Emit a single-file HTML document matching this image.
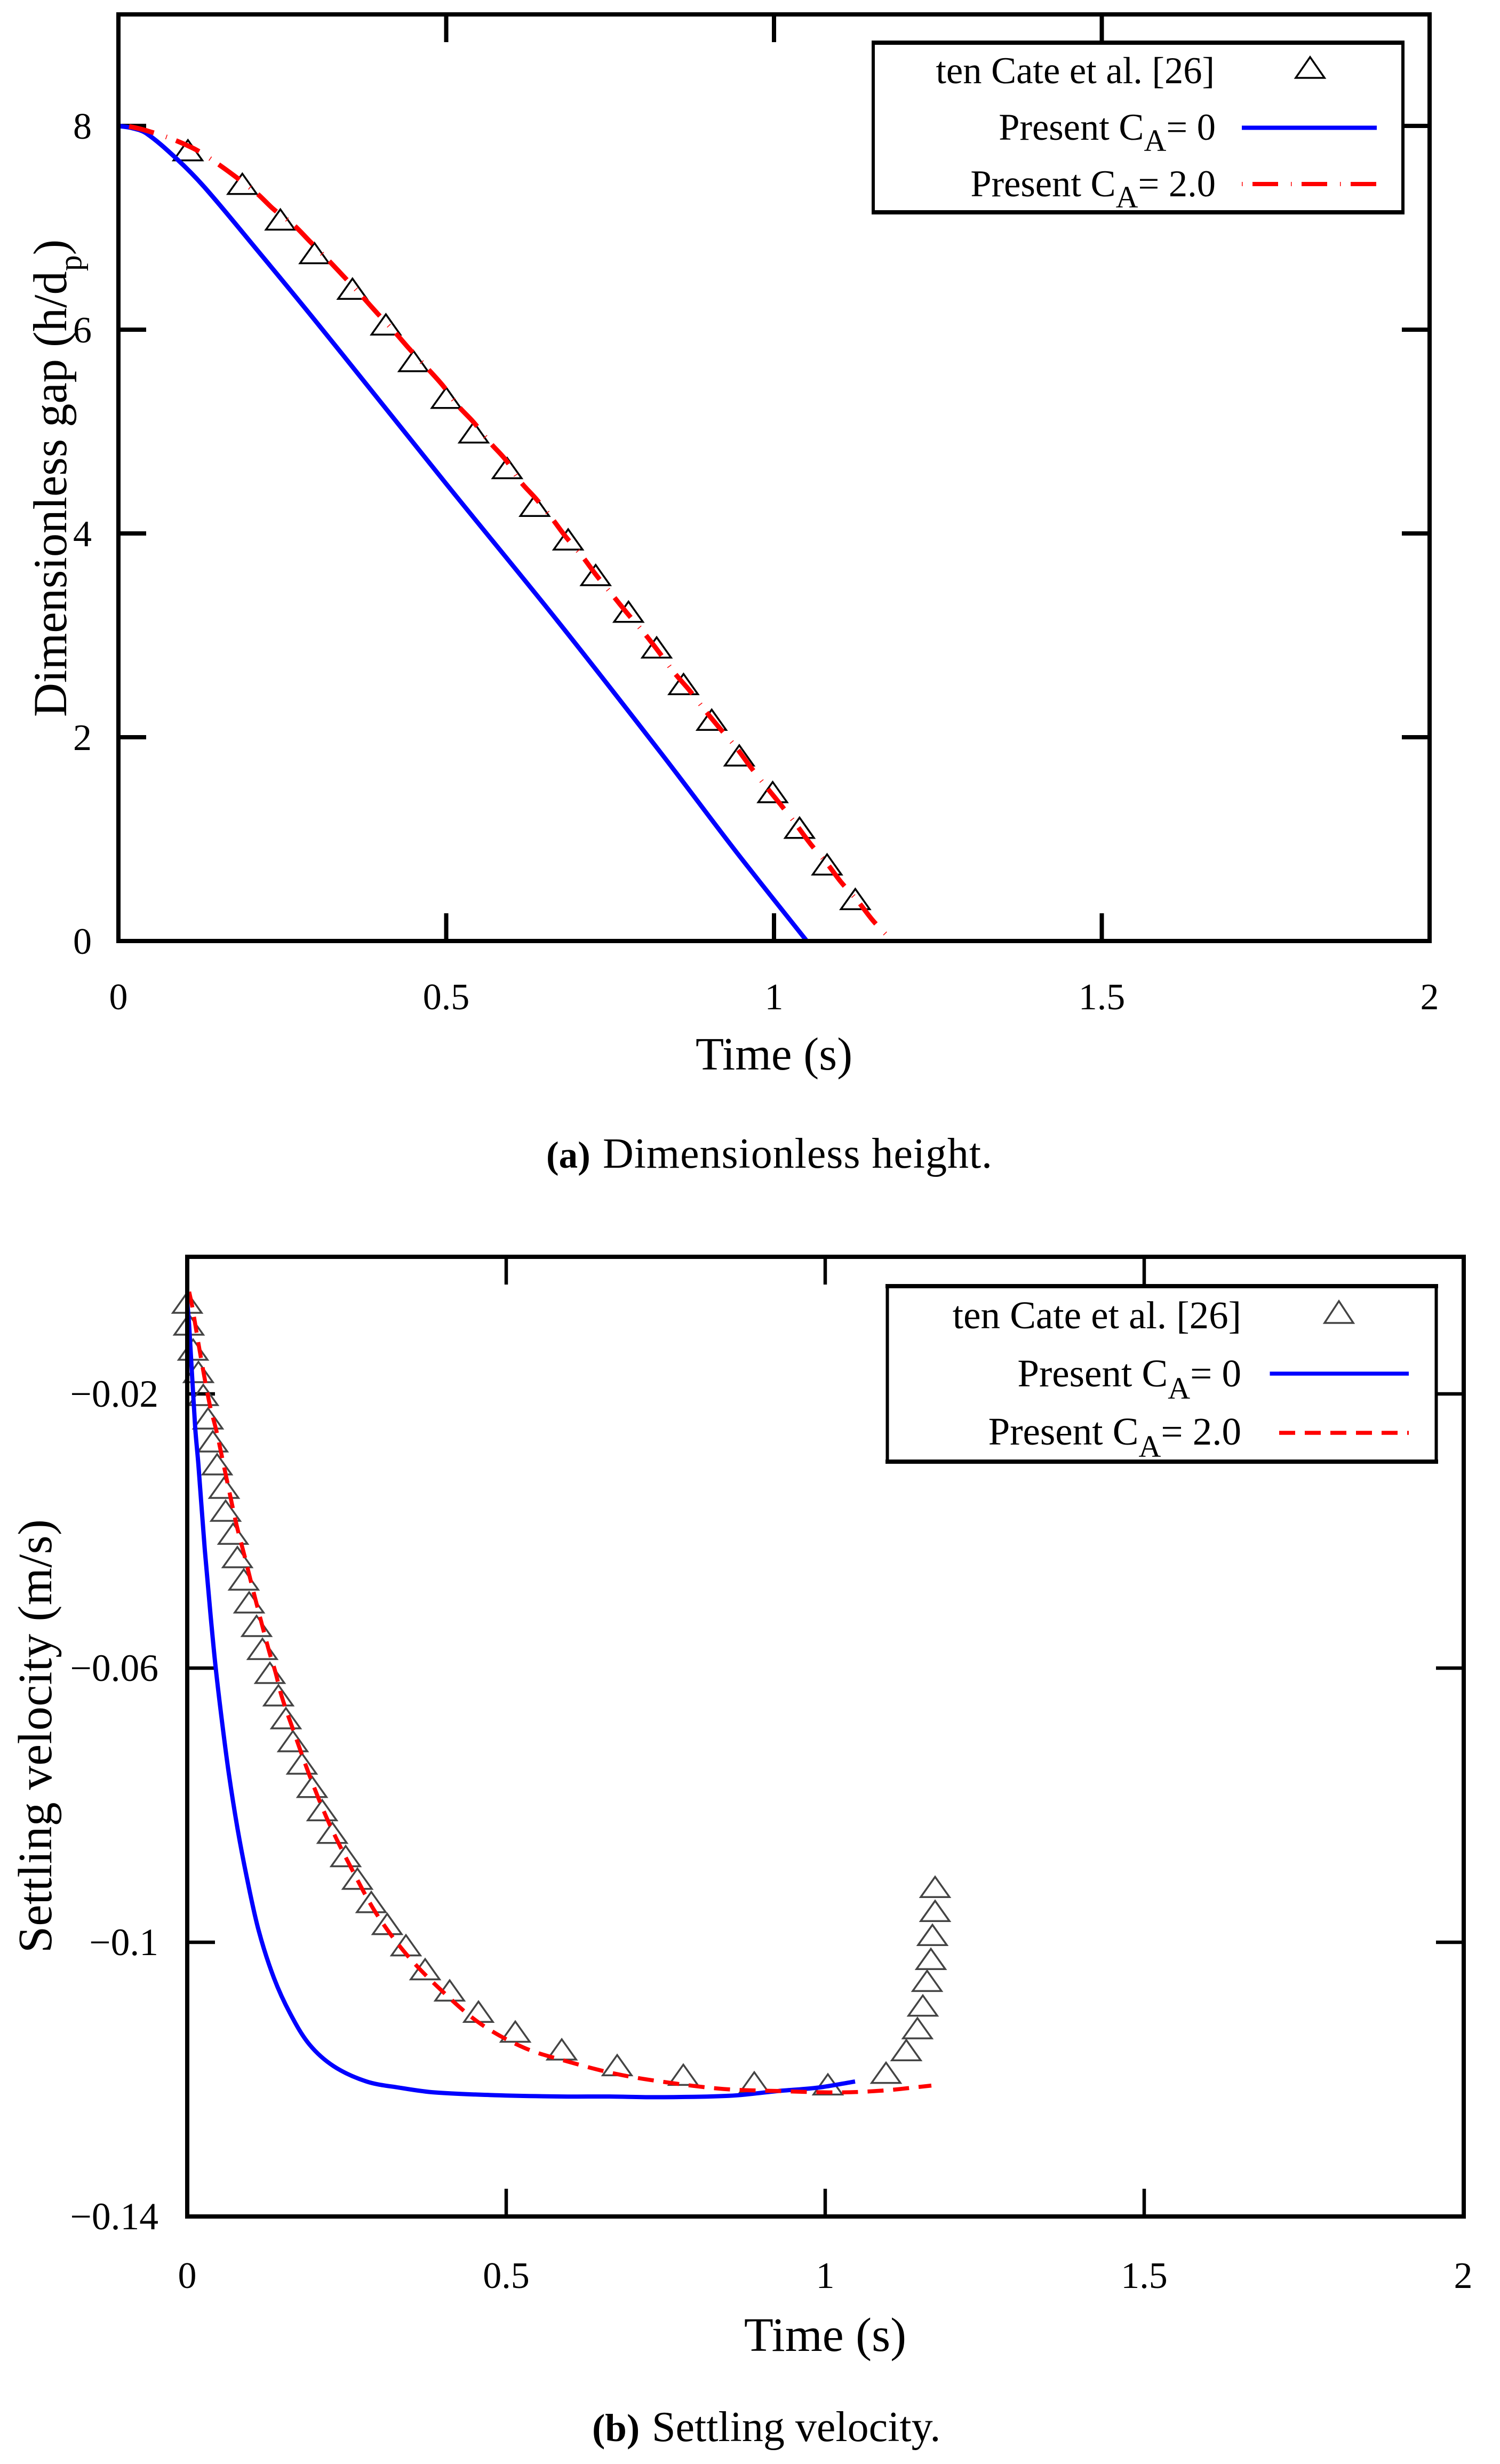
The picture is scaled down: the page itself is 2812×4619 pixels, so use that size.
<!DOCTYPE html>
<html lang="en">
<head>
<meta charset="utf-8">
<title>Dimensionless height and settling velocity</title>
<style>
html,body{margin:0;padding:0;background:#fff;}
svg{display:block;}
text{font-family:"Liberation Serif",serif;fill:#000;}
</style>
</head>
<body>
<svg id="fig" xmlns="http://www.w3.org/2000/svg" width="2812" height="4619" viewBox="0 0 2812 4619">
<rect x="0" y="0" width="2812" height="4619" fill="#fff"/>
<g id="chartA"></g>
<g id="chartB"></g>

<g>
  <rect x="1637" y="80" width="993" height="318" fill="#fff" stroke="none"/>
  <path d="M1637 80V398M2630 80V398" stroke="#000" stroke-width="6" fill="none"/>
  <path d="M1634 80H2633M1634 398H2633" stroke="#000" stroke-width="8" fill="none"/>
  <text x="2277" y="156" text-anchor="end" font-size="70.5">ten Cate et al. [26]</text>
  <path d="M2456 107L2483 146H2429Z" fill="none" stroke="#000" stroke-width="3.5"/>
  <text x="2279" y="262" text-anchor="end" font-size="70.5">Present C<tspan font-size="58" dy="21">A</tspan><tspan dy="-21">= 0</tspan></text>
  <line x1="2328" y1="239.5" x2="2581" y2="239.5" stroke="#0000ff" stroke-width="8"/>
  <text x="2279" y="368" text-anchor="end" font-size="70.5">Present C<tspan font-size="58" dy="21">A</tspan><tspan dy="-21">= 2.0</tspan></text>
  <line x1="2328" y1="345" x2="2581" y2="345" stroke="#ff0000" stroke-width="8" stroke-dasharray="1.5 18.5 48 24"/>
</g>

<g>
  <rect x="1663.5" y="2411" width="1029" height="329" fill="#fff"/>
  <path d="M1663.5 2411V2740M2692.5 2411V2740" stroke="#000" stroke-width="6" fill="none"/>
  <path d="M1660 2411H2696M1660 2740H2696" stroke="#000" stroke-width="8" fill="none"/>
  <text x="2327" y="2490" text-anchor="end" font-size="73">ten Cate et al. [26]</text>
  <path d="M2510 2439L2537 2480H2483Z" fill="none" stroke="#444" stroke-width="3.5"/>
  <text x="2327" y="2599" text-anchor="end" font-size="73">Present C<tspan font-size="58" dy="23">A</tspan><tspan dy="-23">= 0</tspan></text>
  <line x1="2380.5" y1="2575" x2="2641" y2="2575" stroke="#0000ff" stroke-width="7.5"/>
  <text x="2327" y="2708" text-anchor="end" font-size="73">Present C<tspan font-size="58" dy="23">A</tspan><tspan dy="-23">= 2.0</tspan></text>
  <line x1="2398" y1="2686" x2="2641" y2="2686" stroke="#ff0000" stroke-width="7.5" stroke-dasharray="30 18"/>
</g>

<text x="1451" y="2005" text-anchor="middle" font-size="87">Time (s)</text>
<text transform="translate(124 1344) rotate(-90)" font-size="88.5">Dimensionless gap (h/d<tspan font-size="60" dy="28">p</tspan><tspan dy="-28">)</tspan></text>
<text y="2189"><tspan x="1024" font-size="71" font-weight="700">(a) </tspan><tspan x="1130" font-size="80" letter-spacing="0.95">Dimensionless height.</tspan></text>

<text x="1547" y="4407" text-anchor="middle" font-size="90">Time (s)</text>
<text transform="translate(96 3661) rotate(-90)" font-size="90" textLength="813">Settling velocity (m/s)</text>
<text y="4576"><tspan x="1110" font-size="73" font-weight="700">(b) </tspan><tspan x="1222" font-size="80">Settling velocity.</tspan></text>
</svg>

<script>
// ---- Chart A: dimensionless gap ----
const gapXTicks = [0, 0.5, 1, 1.5, 2];
const gapXTickLabels = ['0', '0.5', '1', '1.5', '2'];
const gapYTicks = [0, 2, 4, 6, 8];
const gapYTickLabels = ['0', '2', '4', '6', '8'];

const gapCateTime = [0.106,0.189,0.247,0.299,0.357,0.408,0.450,0.500,0.542,0.593,0.635,0.686,0.728,0.778,0.821,0.862,0.905,0.947,0.998,1.039,1.081,1.124];
const gapCateValue = [7.73,7.40,7.05,6.72,6.37,6.02,5.66,5.30,4.96,4.61,4.24,3.91,3.56,3.20,2.85,2.49,2.14,1.79,1.43,1.08,0.72,0.38];

const gapCa0Time = [0,0.02,0.042,0.09,0.131,0.208,0.3076,0.4996,0.670,0.827,0.943,1.05];
const gapCa0Value = [8.0,7.98,7.93,7.67,7.40,6.81,6.03,4.49,3.14,1.85,0.87,0.0];

const gapCa2Time = [0,0.016,0.050,0.086,0.120,0.151,0.181,0.211,0.237,0.267,0.293,0.319,0.344,0.370,0.395,0.421,0.444,0.470,0.495,0.517,0.542,0.567,0.591,0.613,0.637,0.661,0.682,0.707,0.729,0.753,0.777,0.801,0.824,0.847,0.871,0.894,0.917,0.941,0.964,0.986,1.010,1.033,1.056,1.081,1.102,1.128,1.151,1.176];
const gapCa2Value = [8.0,7.995,7.94,7.86,7.76,7.63,7.49,7.34,7.18,7.03,6.86,6.69,6.52,6.34,6.16,5.98,5.81,5.63,5.45,5.26,5.09,4.89,4.72,4.51,4.34,4.15,3.97,3.78,3.59,3.40,3.21,3.03,2.84,2.64,2.46,2.27,2.09,1.91,1.71,1.53,1.34,1.15,0.95,0.76,0.58,0.39,0.20,0.03];

// ---- Chart B: settling velocity ----
const velXTicks = [0, 0.5, 1, 1.5, 2];
const velXTickLabels = ['0', '0.5', '1', '1.5', '2'];
const velYTicks = [-0.02, -0.06, -0.1, -0.14];
const velYTickLabels = ['\u22120.02', '\u22120.06', '\u22120.1', '\u22120.14'];

const velCateTime = [0,0.0025,0.0092,0.0176,0.0251,0.0326,0.0401,0.0468,0.0577,0.0602,0.0719,0.0786,0.0886,0.0970,0.1087,0.1179,0.1296,0.1430,0.1547,0.1656,0.1798,0.1957,0.2115,0.2274,0.2483,0.2667,0.2885,0.3135,0.3428,0.3729,0.4114,0.4565,0.5142,0.5870,0.6739,0.7776,0.8888,1.0042,1.0953,1.1271,1.1446,1.1530,1.1597,1.1656,1.1681,1.1722,1.1722];
const velCateValue = [-0.00716,-0.01035,-0.01401,-0.01728,-0.02062,-0.02405,-0.02739,-0.03074,-0.03416,-0.03751,-0.04086,-0.04428,-0.04755,-0.05089,-0.05432,-0.05767,-0.06117,-0.06444,-0.06778,-0.07113,-0.0744,-0.0778,-0.0812,-0.0845,-0.0879,-0.0912,-0.0946,-0.0978,-0.1009,-0.1044,-0.1075,-0.1106,-0.1135,-0.1161,-0.1184,-0.1198,-0.1209,-0.1212,-0.1195,-0.1162,-0.1130,-0.1097,-0.1061,-0.1029,-0.0994,-0.0959,-0.0924];

const velCa0Time = [0,0.0030,0.0125,0.0176,0.0276,0.0368,0.0443,0.0548,0.0652,0.0786,0.0931,0.1120,0.1359,0.1614,0.1915,0.2299,0.2809,0.3319,0.3871,0.4816,0.5878,0.6597,0.7349,0.8495,0.9264,0.9891,1.0468];
const velCa0Value = [-0.0065,-0.0100,-0.0249,-0.0304,-0.0428,-0.0525,-0.0597,-0.0680,-0.0754,-0.0833,-0.0904,-0.0983,-0.1052,-0.1104,-0.1149,-0.1181,-0.1203,-0.1212,-0.1219,-0.1223,-0.1225,-0.1225,-0.1226,-0.1224,-0.1217,-0.1212,-0.1203];

const velCa2Time = [0.0030,0.0075,0.0201,0.0351,0.0457,0.0606,0.0778,0.0903,0.1075,0.1288,0.1380,0.1480,0.1656,0.1915,0.2212,0.2595,0.2977,0.3449,0.4005,0.4599,0.5284,0.5966,0.6722,0.7492,0.8403,0.9264,1.0226,1.0945,1.1664];
const velCa2Value = [-0.0051,-0.0071,-0.0140,-0.0215,-0.0254,-0.0319,-0.0393,-0.0438,-0.0502,-0.0577,-0.0605,-0.0641,-0.0689,-0.0756,-0.0824,-0.0896,-0.0960,-0.1019,-0.1072,-0.1119,-0.1154,-0.1174,-0.1192,-0.1204,-0.1214,-0.1217,-0.1219,-0.1216,-0.1209];

// ---- Axis functions ----
const SVGNS = 'http://www.w3.org/2000/svg';
function gapX(t) { return 222 + t * 1229; }
function gapY(v) { return 1764 - v * 191; }
function velX(t) { return 351 + t * 1196; }
function velY(v) { return 2356 - v * 12850; }

function el(tag, parent, props) {
  const node = document.createElementNS(SVGNS, tag);
  for (const k in props) node.setAttribute(k, props[k]);
  parent.appendChild(node);
  return node;
}
// Smooth curve through the read points (non-uniform Catmull-Rom).
function pathFrom(xs, ys, fx, fy) {
  const pts = xs.map(function (t, i) { return [fx(t), fy(ys[i])]; });
  function dist(a, b) { return Math.hypot(a[0] - b[0], a[1] - b[1]) || 1; }
  function tangent(i) {
    const a = pts[Math.max(i - 1, 0)], b = pts[Math.min(i + 1, pts.length - 1)];
    const d = dist(a, b);
    return [(b[0] - a[0]) / d, (b[1] - a[1]) / d];
  }
  let d = 'M' + pts[0][0].toFixed(1) + ' ' + pts[0][1].toFixed(1);
  for (let i = 0; i < pts.length - 1; i++) {
    const p = pts[i], q = pts[i + 1], len = dist(p, q) / 3;
    const tp = tangent(i), tq = tangent(i + 1);
    d += 'C' + (p[0] + tp[0] * len).toFixed(1) + ' ' + (p[1] + tp[1] * len).toFixed(1) + ' ' +
         (q[0] - tq[0] * len).toFixed(1) + ' ' + (q[1] - tq[1] * len).toFixed(1) + ' ' +
         q[0].toFixed(1) + ' ' + q[1].toFixed(1);
  }
  return d;
}

function drawChart(cfg) {
  const g = document.getElementById(cfg.id);
  const left = cfg.left, right = cfg.right, top = cfg.top, bottom = cfg.bottom;

  cfg.xTicks.forEach(function (t, i) {
    const x = cfg.fx(t);
    if (i > 0 && i < cfg.xTicks.length - 1) {
      const lo = el('line', g, {x1: x, y1: bottom, x2: x, y2: bottom - cfg.tickLen, stroke: '#000', 'stroke-width': cfg.tickW});
      
      
      const hi = el('line', g, {x1: x, y1: top, x2: x, y2: top + cfg.tickLen, stroke: '#000', 'stroke-width': cfg.tickW});
      
      
    }
    const label = el('text', g, {x: x, y: cfg.xLabelY, 'text-anchor': 'middle', 'font-size': 70});
    label.textContent = cfg.xLabels[i];
    
    
  });

  cfg.yTicks.forEach(function (v, i) {
    const y = cfg.fy(v);
    const lo = el('line', g, {x1: left, y1: y, x2: left + cfg.tickLen, y2: y, stroke: '#000', 'stroke-width': cfg.tickW});
    
    
    const hi = el('line', g, {x1: right, y1: y, x2: right - cfg.tickLen, y2: y, stroke: '#000', 'stroke-width': cfg.tickW});
    
    
    const label = el('text', g, {x: cfg.yLabelX, y: y + 24, 'text-anchor': 'end', 'font-size': cfg.yLabelSize});
    label.textContent = cfg.yLabels[i];
    
    
  });

  cfg.markerX.forEach(function (t, i) {
    const px = cfg.fx(t), py = cfg.fy(cfg.markerY[i]);
    const d = 'M' + px.toFixed(1) + ' ' + (py - 25).toFixed(1) +
              'L' + (px + 27).toFixed(1) + ' ' + (py + 13).toFixed(1) +
              'H' + (px - 27).toFixed(1) + 'Z';
    const tri = el('path', g, {d: d, fill: 'none', stroke: cfg.markerColor, 'stroke-width': 3.5});
    
    
  });

  const blue = el('path', g, {d: pathFrom(cfg.ca0X, cfg.ca0Y, cfg.fx, cfg.fy), fill: 'none', stroke: '#0000ff', 'stroke-width': cfg.blueW, 'stroke-linejoin': 'round'});
  
  

  const red = el('path', g, {d: pathFrom(cfg.ca2X, cfg.ca2Y, cfg.fx, cfg.fy), fill: 'none', stroke: '#ff0000', 'stroke-width': cfg.redW, 'stroke-dasharray': cfg.dash});
  
  

  const border = el('rect', g, {x: left, y: top, width: right - left, height: bottom - top, fill: 'none', stroke: '#000', 'stroke-width': cfg.borderW});
  
  
}

drawChart({
  id: 'chartA', fx: gapX, fy: gapY, left: 222, right: 2680, top: 27, bottom: 1764,
  tickLen: 52, tickW: 8, borderW: 8, blueW: 8.5, redW: 9, dash: '1.5 18.5 48 24',
  xTicks: gapXTicks, xLabels: gapXTickLabels, yTicks: gapYTicks, yLabels: gapYTickLabels,
  xLabelY: 1892, yLabelX: 172, yLabelSize: 70, markerColor: '#000',
  markerX: gapCateTime, markerY: gapCateValue,
  ca0X: gapCa0Time, ca0Y: gapCa0Value, ca2X: gapCa2Time, ca2Y: gapCa2Value
});

drawChart({
  id: 'chartB', fx: velX, fy: velY, left: 351, right: 2744, top: 2356, bottom: 4155,
  tickLen: 52, tickW: 6.5, borderW: 8, blueW: 8, redW: 7.5, dash: '30 18',
  xTicks: velXTicks, xLabels: velXTickLabels, yTicks: velYTicks, yLabels: velYTickLabels,
  xLabelY: 4289, yLabelX: 297, yLabelSize: 71.5, markerColor: '#444',
  markerX: velCateTime, markerY: velCateValue,
  ca0X: velCa0Time, ca0Y: velCa0Value, ca2X: velCa2Time, ca2Y: velCa2Value
});
</script>
</body>
</html>
